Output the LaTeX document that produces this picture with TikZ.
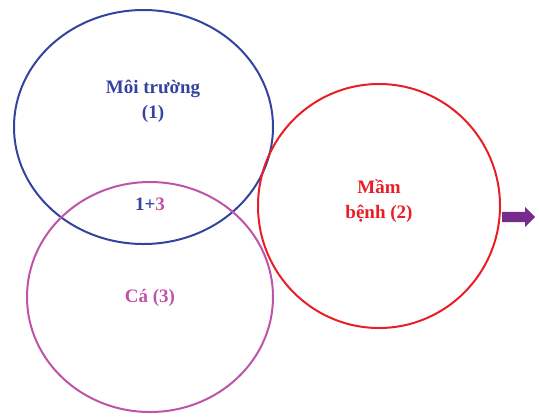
\documentclass[tikz,border=0pt]{standalone}
\usepackage{fontspec}
\setmainfont{Liberation Serif}
\usetikzlibrary{positioning, shapes.geometric, shapes.arrows}

\definecolor{envblue}{RGB}{52,68,158}
\definecolor{fishpink}{RGB}{190,84,170}
\definecolor{germred}{RGB}{232,30,38}
\definecolor{arrowpurple}{RGB}{118,44,140}

\begin{document}
\begin{tikzpicture}[
      x=1pt, y=-1pt,
      circ/.style={ellipse, draw, line width=2pt, inner sep=0pt},
      label/.style={align=center, font=\fontsize{19}{25}\selectfont\bfseries}
    ]
    \useasboundingbox (0,0) rectangle (540,418);
    % three overlapping sets
    \node[circ, envblue, minimum width=259pt, minimum height=234pt] (env) at (143.5,127) {};
    \node[circ, fishpink, minimum width=246pt, minimum height=230pt] (fish) at (150,297) {};
    \node[circ, germred, minimum width=242pt, minimum height=244pt] (germ) at (379,206) {};

    \node[label, text=envblue] (envtxt) at (153,101) {Môi trường\\(1)};
    \node[label, text=fishpink] (fishtxt) at (150,298) {Cá (3)};
    \node[label, text=germred] (germtxt) at (379,201) {Mầm\\bệnh (2)};
    \node[label] (both) at (150,204) {\textcolor{envblue}{1+}\textcolor{fishpink}{3}};

    % outgoing arrow
    \node[single arrow, fill=arrowpurple, minimum height=33pt, inner xsep=0pt,
      inner ysep=5pt, single arrow head extend=5pt, anchor=west] (out) at (502,217) {};
  \end{tikzpicture}
\end{document}
